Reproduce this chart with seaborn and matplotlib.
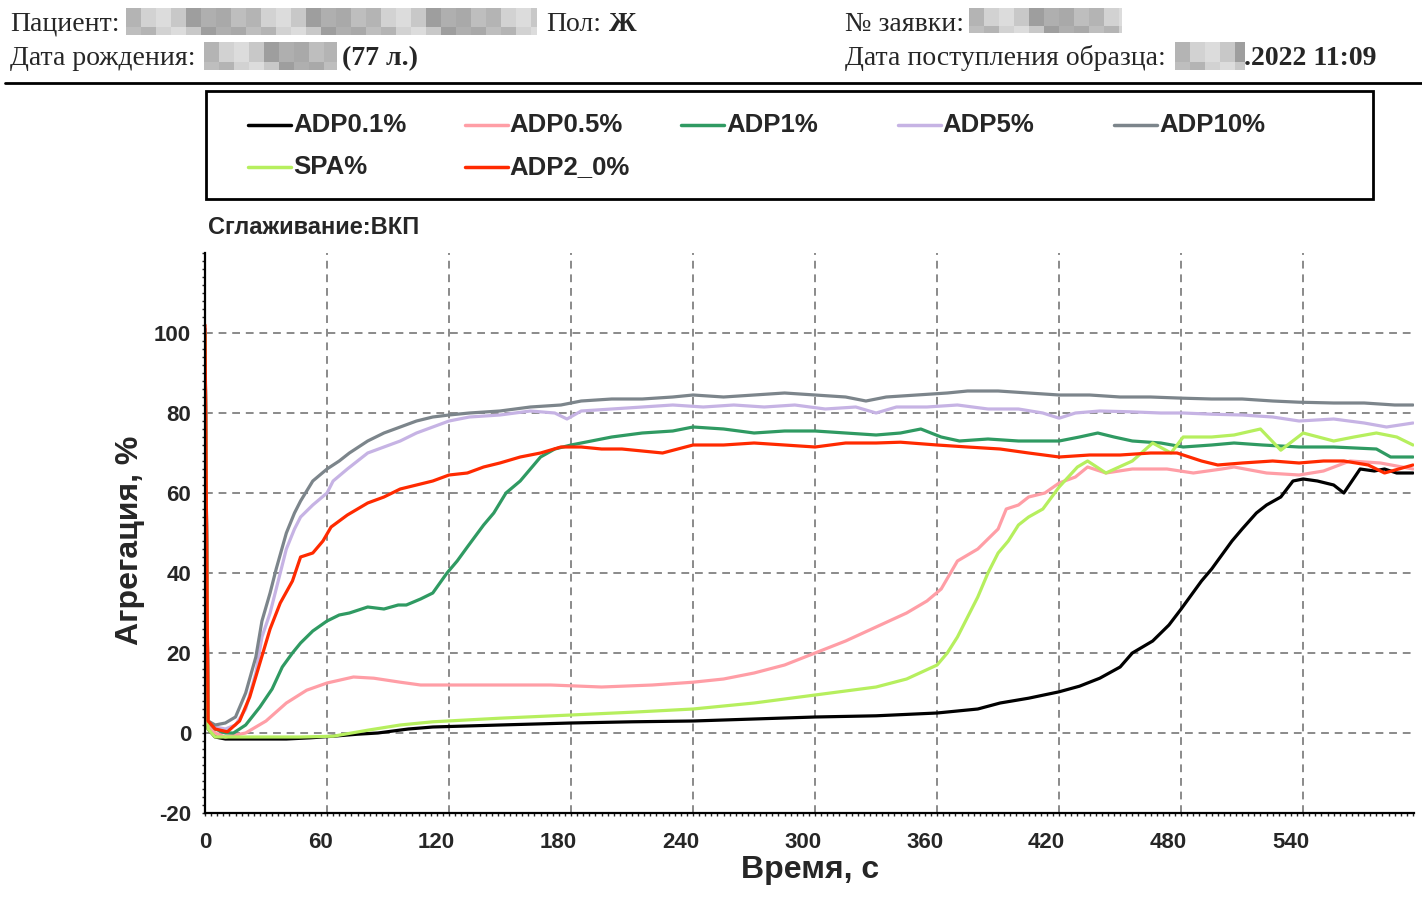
import numpy as np
import pandas as pd
import matplotlib
matplotlib.use("Agg")
import matplotlib.pyplot as plt
import matplotlib.transforms as mtransforms
from matplotlib.lines import Line2D
from matplotlib.patches import Rectangle
import seaborn as sns

# --- data ---
series_names = ["ADP0.1%", "ADP0.5%", "ADP1%", "ADP5%", "ADP10%", "SPA%", "ADP2_0%"]
series_colors = ["#000000", "#ff9ea6", "#2f9a62", "#c6b3e4", "#7c858b", "#b6ef5e", "#ff2a00"]

t_adp01 = [0, 1.5, 5, 10, 20, 30, 40, 52, 63, 75, 85, 100, 112, 145, 180, 210, 240, 270, 300, 330,
           360, 380, 391, 405, 420, 430, 440, 450, 456, 466, 474, 480, 485, 490, 495, 500, 505, 510,
           517, 522, 529, 535, 540, 547, 555, 560, 568, 575, 580, 586, 594]
v_adp01 = [100, 1, -1, -1.5, -1.5, -1.5, -1.5, -1.2, -0.8, -0.3, 0, 1, 1.5, 2, 2.5, 2.8, 3, 3.5, 4, 4.3,
           5, 6, 7.5, 8.7, 10.3, 11.7, 13.7, 16.5, 20, 23, 27, 31, 34.5, 38, 41, 44.5, 48, 51,
           55, 57, 59, 63, 63.5, 63, 62, 60, 66, 65.5, 66, 65, 65]

t_adp05 = [0, 1.5, 5, 10, 20, 30, 40, 50, 60, 73, 83, 96, 106, 120, 145, 170, 195, 220, 240, 255,
           270, 285, 300, 315, 330, 345, 355, 362, 370, 380, 390, 394, 400, 405, 413, 420, 428, 434,
           443, 456, 473, 486, 500, 506, 522, 538, 550, 563, 578, 594]
v_adp05 = [100, 2, 0, -1, 0, 3, 7.5, 10.7, 12.5, 14, 13.7, 12.7, 12, 12, 12, 12, 11.5, 12, 12.7, 13.5,
           15, 17, 20, 23, 26.5, 30, 33, 36, 43, 46, 51, 56, 57, 59, 60, 62.5, 64, 66.5,
           65, 66, 66, 65, 66, 66.5, 65, 64.5, 65.5, 68, 67.5, 66]

t_adp1 = [0, 1.5, 5, 10, 14, 20, 27, 33, 38, 43, 47, 53, 60, 66, 71, 80, 88, 95, 99, 106, 112, 119,
          124, 129, 137, 142, 148, 155, 165, 172, 180, 190, 200, 215, 230, 240, 255, 270, 285, 300,
          315, 330, 342, 352, 362, 371, 385, 400, 420, 430, 439, 447, 456, 470, 481, 495, 506, 520,
          538, 555, 576, 583, 594]
v_adp1 = [100, 3, 1, 0, 0, 2, 6.5, 11, 16.5, 20, 22.5, 25.5, 28, 29.5, 30, 31.5, 31, 32, 32, 33.5, 35, 40,
          43, 46.5, 52, 55, 60, 63, 69, 71, 72, 73, 74, 75, 75.5, 76.5, 76, 75, 75.5, 75.5,
          75, 74.5, 75, 76, 74, 73, 73.5, 73, 73, 74, 75, 74, 73, 72.5, 71.5, 72, 72.5, 72,
          71.5, 71.5, 71, 69, 69]

t_adp5 = [0, 1.5, 5, 10, 15, 20, 25, 28, 32, 35, 40, 44, 47, 53, 60, 63, 70, 80, 88, 96, 104, 112, 120,
          130, 145, 160, 172, 178, 185, 200, 215, 230, 245, 260, 275, 290, 305, 320, 330, 340, 355,
          370, 385, 400, 412, 420, 428, 440, 455, 470, 481, 495, 510, 525, 538, 555, 570, 581, 594]
v_adp5 = [101, 3, 1.5, 1, 2, 6, 15, 24, 30, 36, 46, 51, 54, 57, 60, 63, 66, 70, 71.5, 73, 75, 76.5, 78,
          79, 79.5, 80.5, 80, 78.5, 80.5, 81, 81.5, 82, 81.5, 82, 81.5, 82, 81, 81.5, 80, 81.5, 81.5,
          82, 81, 81, 80, 78.7, 80, 80.5, 80.3, 80, 80, 79.7, 79.5, 79, 78, 78.5, 77.5, 76.5, 77.5]

t_adp10 = [0, 1.5, 5, 10, 15, 20, 25, 28, 32, 35, 40, 44, 47, 53, 60, 66, 71, 80, 88, 96, 104, 112, 120,
           130, 145, 160, 175, 185, 200, 215, 230, 240, 255, 270, 285, 300, 315, 325, 335, 350, 365,
           375, 390, 405, 420, 435, 450, 465, 481, 495, 510, 525, 538, 555, 570, 585, 594]
v_adp10 = [101, 3, 2, 2.5, 4, 10, 19, 28, 35, 41, 50, 55, 58, 63, 66, 68, 70, 73, 75, 76.5, 78, 79, 79.5,
           80, 80.5, 81.5, 82, 83, 83.5, 83.5, 84, 84.5, 84, 84.5, 85, 84.5, 84, 83, 84, 84.5, 85,
           85.5, 85.5, 85, 84.5, 84.5, 84, 84, 83.7, 83.5, 83.5, 83, 82.7, 82.5, 82.5, 82, 82]

t_spa = [0, 1.5, 5, 10, 20, 30, 47, 63, 80, 96, 112, 145, 180, 210, 240, 270, 300, 330, 345, 360, 365,
         370, 375, 380, 385, 390, 395, 400, 405, 412, 420, 429, 434, 443, 456, 466, 475, 481, 495, 506,
         519, 529, 540, 555, 565, 576, 586, 594]
v_spa = [100, 1, -1, -1, -1, -1, -1, -0.8, 0.7, 2, 2.8, 3.7, 4.5, 5.2, 6, 7.5, 9.5, 11.5, 13.5, 17, 20,
         24, 29, 34, 40, 45, 48, 52, 54, 56, 61.5, 66.5, 68, 65, 68, 72.5, 70, 74, 74, 74.5,
         76, 70.7, 75, 73, 74, 75, 74, 72]

t_adp20 = [0, 1.5, 5, 11, 17, 22, 27, 32, 37, 43, 47, 53, 58, 62, 70, 80, 88, 96, 104, 112, 120, 129,
           137, 145, 155, 165, 175, 185, 195, 205, 215, 225, 240, 255, 270, 285, 300, 315, 330, 342,
           360, 375, 391, 405, 420, 435, 450, 465, 478, 490, 498, 510, 525, 538, 550, 560, 572, 580, 594]
v_adp20 = [102, 3, 1, 0.3, 3, 9, 17.5, 26, 32.5, 38, 44, 45, 48, 51.5, 54.5, 57.5, 59, 61, 62, 63, 64.5, 65,
           66.5, 67.5, 69, 70, 71.5, 71.5, 71, 71, 70.5, 70, 72, 72, 72.5, 72, 71.5, 72.5, 72.5, 72.7,
           72, 71.5, 71, 70, 69, 69.5, 69.5, 70, 70, 68, 67, 67.5, 68, 67.5, 68, 68, 67, 65, 67]

x_ticks = [0, 60, 120, 180, 240, 300, 360, 420, 480, 540]
y_ticks = [-20, 0, 20, 40, 60, 80, 100]

times = [t_adp01, t_adp05, t_adp1, t_adp5, t_adp10, t_spa, t_adp20]
values = [v_adp01, v_adp05, v_adp1, v_adp5, v_adp10, v_spa, v_adp20]
df = pd.concat([pd.DataFrame({"t": t, "v": v, "series": n})
                for t, v, n in zip(times, values, series_names)], ignore_index=True)

# --- figure ---
sns.set_style("white")
plt.rcParams["axes.unicode_minus"] = False
W, H = 1422, 902
fig = plt.figure(figsize=(W / 100, H / 100), dpi=100)


def fx(x):
    return x / W


def fy(y):
    return 1 - y / H


ax = fig.add_axes([fx(205), fy(813), (1414 - 205) / W, (813 - 253) / H])

sns.lineplot(data=df, x="t", y="v", hue="series", hue_order=series_names,
             palette=dict(zip(series_names, series_colors)), estimator=None, sort=False,
             linewidth=2.3, legend=False, ax=ax)

ax.set_xlim(0, 594.5)
ax.set_ylim(-20, 120)
ax.set_xticks(x_ticks)
ax.set_yticks(y_ticks)
ax.set_xticks(np.arange(30, 595, 60), minor=True)
ax.set_yticks(np.arange(-10, 100, 20), minor=True)
ax.tick_params(which="major", length=0, labelsize=16)
ax.tick_params(axis="y", which="major", pad=10)
ax.tick_params(axis="x", which="major", pad=14)
ax.tick_params(which="minor", direction="in", length=10, width=1.5, color="black")
for lab in ax.get_xticklabels() + ax.get_yticklabels():
    lab.set_fontweight("bold")
    lab.set_family("Liberation Sans")
shift = mtransforms.ScaledTranslation(6 / 100, 0, fig.dpi_scale_trans)
for lab in ax.get_xticklabels():
    lab.set_horizontalalignment("right")
    lab.set_transform(lab.get_transform() + shift)

# dashed grid
for xv in x_ticks[1:]:
    ax.axvline(xv, color="#8a8a8a", lw=1.4, ls=(0, (4, 3)), zorder=0)
for yv in y_ticks[1:]:
    ax.axhline(yv, color="#8a8a8a", lw=1.4, ls=(0, (4, 3)), zorder=0)

for s in ["top", "right"]:
    ax.spines[s].set_visible(False)
for s in ["left", "bottom"]:
    ax.spines[s].set_color("black")
    ax.spines[s].set_linewidth(1.6)

# fine dotted ticks along the axes
sx = ax.secondary_xaxis("bottom")
sx.set_xticks(np.arange(0, 595, 3))
sx.tick_params(length=2.5, width=1, labelbottom=False)
sx.spines["bottom"].set_visible(False)
sy = ax.secondary_yaxis("left")
sy.set_yticks(np.arange(-20, 121, 2))
sy.tick_params(length=2.5, width=1, labelleft=False)
sy.spines["left"].set_visible(False)

ax.set_xlabel("Время, с", fontsize=23, fontweight="bold", family="Liberation Sans")
ax.set_ylabel("Агрегация, %", fontsize=23, fontweight="bold", family="Liberation Sans")
ax.xaxis.set_label_coords((810 - 205) / 1209, (813 - 870) / 560)
ax.yaxis.set_label_coords((130 - 205) / 1209, (813 - 540) / 560)
ax.xaxis.label.set_va("center")
ax.yaxis.label.set_va("center")

fig.text(fx(208), fy(228), "Сглаживание:ВКП", fontsize=17, fontweight="bold",
         family="Liberation Sans", va="center", ha="left")

# legend box
fig.add_artist(Rectangle((fx(206), fy(199)), (1373 - 206) / W, (199 - 91) / H,
                         transform=fig.transFigure, fill=False, lw=2, ec="black"))
for k in range(len(series_names)):
    col, row = (k, 0) if k < 5 else (k - 5, 1)
    x0 = 248 + 216.5 * col
    yy = 125 + 42 * row
    fig.add_artist(Line2D([fx(x0), fx(x0 + 43)], [fy(yy), fy(yy)], transform=fig.transFigure,
                          color=series_colors[k], lw=2.5))
    fig.text(fx(x0 + 45), fy(yy), series_names[k], fontsize=18.5, fontweight="bold",
             family="Liberation Sans", va="center", ha="left")

# header
serif = "Liberation Serif"
hs = 20
fig.text(fx(10), fy(31), "Пациент:", fontsize=hs, family=serif, va="baseline")
fig.text(fx(546), fy(31), "Пол:", fontsize=hs, family=serif, va="baseline")
fig.text(fx(609), fy(31), "Ж", fontsize=hs, family=serif, fontweight="bold", va="baseline")
fig.text(fx(10), fy(65), "Дата рождения:", fontsize=hs, family=serif, va="baseline")
fig.text(fx(342), fy(65), "(77 л.)", fontsize=hs, family=serif, fontweight="bold", va="baseline")
fig.text(fx(845), fy(31), "№ заявки:", fontsize=hs, family=serif, va="baseline")
fig.text(fx(845), fy(65), "Дата поступления образца:", fontsize=hs, family=serif, va="baseline")
fig.text(fx(1244), fy(65), ".2022 11:09", fontsize=hs, family=serif, fontweight="bold", va="baseline")

# blurred (anonymised) fields
shades = ["#b4b4b4", "#c8c8c8", "#a9a9a9", "#d2d2d2", "#9e9e9e", "#bebebe", "#dcdcdc", "#afafaf"]
for (bx0, bx1, by0, by1) in [(126, 537, 8, 35), (204, 337, 42, 70), (969, 1122, 8, 33), (1175, 1245, 42, 70)]:
    cw = 15
    n = int(np.ceil((bx1 - bx0) / cw))
    for i in range(n):
        w = min(cw, bx1 - bx0 - i * cw)
        for j, (ya, yb) in enumerate([(by0, by0 + (by1 - by0) * 0.7), (by0 + (by1 - by0) * 0.7, by1)]):
            c = shades[(i * 3 + j * 5) % len(shades)]
            fig.add_artist(Rectangle((fx(bx0 + i * cw), fy(yb)), w / W, (yb - ya) / H,
                                     transform=fig.transFigure, color=c, lw=0))

fig.add_artist(Line2D([fx(5), fx(1422)], [fy(83), fy(83)], transform=fig.transFigure,
                      color="black", lw=2))

fig.savefig("out.png", dpi=100)
